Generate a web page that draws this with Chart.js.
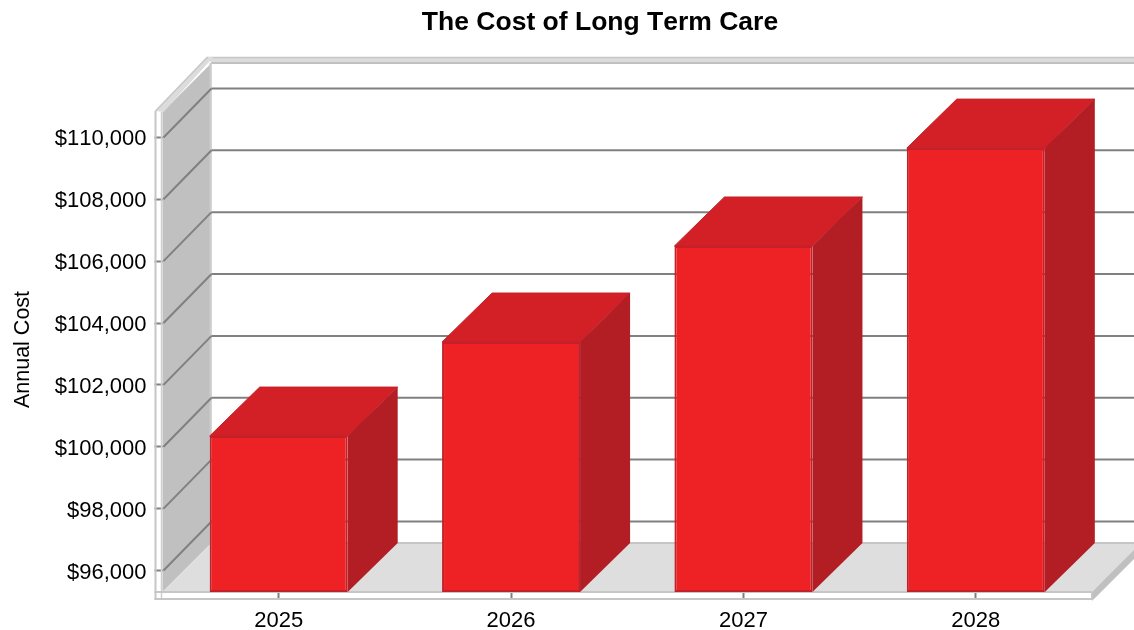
<!DOCTYPE html>
<html>
<head>
<meta charset="utf-8">
<title>The Cost of Long Term Care</title>
<script src="https://cdn.jsdelivr.net/npm/chart.js@4"></script>
<style>
    body { margin: 0; background: #ffffff; }
    #wrap { width: 1134px; height: 630px; }
</style>
</head>
<body>
<div id="wrap"><canvas id="chart" width="1134" height="630"></canvas></div>
<script>
// ---- data ----
const years = ['2025', '2026', '2027', '2028'];
const annualCost = [100345, 103385, 106490, 109655];
const yTicks = [96000, 98000, 100000, 102000, 104000, 106000, 108000, 110000];

const FONT = "'Liberation Sans', Arial, sans-serif";
const DEPTH_X = 49;
const DEPTH_Y = 49;
const Y_MIN = 95304;
const Y_MAX = 110984;
const WALL_TOP_VALUE = 110824;

function poly(ctx, pts, fill, stroke, lineWidth) {
    ctx.beginPath();
    pts.forEach((p, i) => (i === 0 ? ctx.moveTo(p[0], p[1]) : ctx.lineTo(p[0], p[1])));
    ctx.closePath();
    if (fill) { ctx.fillStyle = fill; ctx.fill(); }
    if (stroke) { ctx.strokeStyle = stroke; ctx.lineWidth = lineWidth || 1; ctx.stroke(); }
}

function line(ctx, x1, y1, x2, y2, color, width) {
    ctx.beginPath();
    ctx.moveTo(x1, y1);
    ctx.lineTo(x2, y2);
    ctx.strokeStyle = color;
    ctx.lineWidth = width;
    ctx.stroke();
}

// 3D look: walls, floor, frame and the top/side faces of the bars
const depthPlugin = {
    id: 'depth',
    afterLayout(chart) {
        // title is centred a bit right of the page centre
        chart.titleBlock.left = 108;
    },
    beforeDraw(chart) {
        // reference text is set without kerning
        chart.ctx.fontKerning = 'none';
    },
    beforeDatasetsDraw(chart) {
        const ctx = chart.ctx;
        const area = chart.chartArea;
        const yScale = chart.scales.y;
        const left = area.left;
        const right = area.right;
        const bottom = area.bottom;
        const top = yScale.getPixelForValue(WALL_TOP_VALUE);
        const edge = chart.width + 10;
        const frame = '#c6c6c6';

        ctx.save();

        // left wall
        poly(ctx, [[left, top], [left + DEPTH_X, top - DEPTH_Y], [left + DEPTH_X, bottom - DEPTH_Y], [left, bottom]], '#c0c0c0');
        line(ctx, left + DEPTH_X - 1, top - DEPTH_Y, left + DEPTH_X - 1, bottom - DEPTH_Y, '#cccccc', 2);

        // floor
        poly(ctx, [[left, bottom], [left + DEPTH_X, bottom - DEPTH_Y], [edge, bottom - DEPTH_Y], [right, bottom]], '#dedede');
        line(ctx, left + DEPTH_X, bottom - DEPTH_Y, edge, bottom - DEPTH_Y, frame, 2);

        // floor slab, right side
        poly(ctx, [[right, bottom], [right + DEPTH_X, bottom - DEPTH_Y], [right + DEPTH_X, bottom - DEPTH_Y + 9], [right, bottom + 9]], '#c0c0c0');

        // top rim of the back wall
        poly(ctx, [[left + DEPTH_X - 4, top - DEPTH_Y - 6], [edge, top - DEPTH_Y - 6], [edge, top - DEPTH_Y + 1], [left + DEPTH_X, top - DEPTH_Y + 1]], '#dcdcdc');
        line(ctx, left + DEPTH_X - 4, top - DEPTH_Y - 5.5, edge, top - DEPTH_Y - 5.5, frame, 1.5);
        line(ctx, left + DEPTH_X, top - DEPTH_Y, edge, top - DEPTH_Y, '#c0c0c0', 2);

        // diagonal rim
        poly(ctx, [[left - 7, top - 1], [left + DEPTH_X - 4, top - DEPTH_Y - 6], [left + DEPTH_X + 2, top - DEPTH_Y - 6], [left + 1, top]], '#dcdcdc');
        line(ctx, left - 7, top - 1, left + DEPTH_X - 4, top - DEPTH_Y - 6, frame, 1.5);

        // left and bottom rim
        line(ctx, left - 7, top - 1, left - 7, bottom + 8, frame, 2);
        line(ctx, left - 1, top, left - 1, bottom + 8, '#d0d0d0', 1.5);
        line(ctx, left - 8, bottom, right, bottom, frame, 2);
        line(ctx, left - 8, bottom + 7, right, bottom + 7, frame, 2);
        line(ctx, right, bottom, right, bottom + 8, frame, 2);

        // grid lines on the back wall and on the left wall
        yTicks.forEach(v => {
            const y = yScale.getPixelForValue(v);
            line(ctx, left + 1, y, left + DEPTH_X, y - DEPTH_Y, '#808080', 2);
            line(ctx, left + DEPTH_X, y - DEPTH_Y, edge, y - DEPTH_Y, '#808080', 2);
        });

        // bar top and side faces
        chart.getDatasetMeta(0).data.forEach(bar => {
            const x1 = bar.x - bar.width / 2;
            const x2 = bar.x + bar.width / 2;
            poly(ctx, [[x1, bar.y], [x1 + DEPTH_X + 1, bar.y - DEPTH_Y], [x2 + DEPTH_X + 1, bar.y - DEPTH_Y], [x2, bar.y]], '#d32027', '#c4202a', 1);
            poly(ctx, [[x2, bar.y], [x2 + DEPTH_X + 1, bar.y - DEPTH_Y], [x2 + DEPTH_X + 1, bottom - DEPTH_Y], [x2, bottom]], '#b21e24');
        });

        ctx.restore();
    },
};

new Chart(document.getElementById('chart'), {
    type: 'bar',
    data: {
        labels: years,
        datasets: [{
            label: 'Annual Cost',
            data: annualCost,
            base: Y_MIN,
            backgroundColor: '#ee2224',
            borderColor: '#c4202a',
            borderWidth: 2,
            borderSkipped: false,
            barPercentage: 0.594,
            categoryPercentage: 1,
        }],
    },
    options: {
        responsive: false,
        animation: false,
        layout: { autoPadding: false, padding: { right: 42 } },
        plugins: {
            legend: { display: false },
            tooltip: { enabled: false },
            title: {
                display: true,
                text: 'The Cost of Long Term Care',
                color: '#000000',
                font: { family: FONT, size: 26.5, weight: 'bold' },
                padding: { top: 7, bottom: 68.2 },
            },
        },
        scales: {
            x: {
                offset: true,
                afterFit: scale => { scale.height = 38; },
                border: { display: false },
                grid: { offset: false, drawOnChartArea: false, tickLength: 8, tickWidth: 2, tickColor: '#808080' },
                ticks: { color: '#000000', font: { family: FONT, size: 22 }, padding: 8, maxRotation: 0 },
            },
            y: {
                min: Y_MIN,
                max: Y_MAX,
                afterBuildTicks: scale => { scale.ticks = yTicks.map(v => ({ value: v })); },
                afterFit: scale => { scale.width = 162.5; },
                border: { display: false },
                grid: { drawOnChartArea: false, tickLength: 8, tickWidth: 2, tickColor: '#808080' },
                title: {
                    display: true,
                    text: 'Annual Cost',
                    color: '#000000',
                    font: { family: FONT, size: 21.5 },
                    padding: { top: 10, bottom: 0 },
                },
                ticks: {
                    color: '#000000',
                    font: { family: FONT, size: 22 },
                    padding: 8,
                    labelOffset: 2,
                    callback: v => '$' + v.toLocaleString('en-US'),
                },
            },
        },
    },
    plugins: [depthPlugin],
});
</script>
</body>
</html>
